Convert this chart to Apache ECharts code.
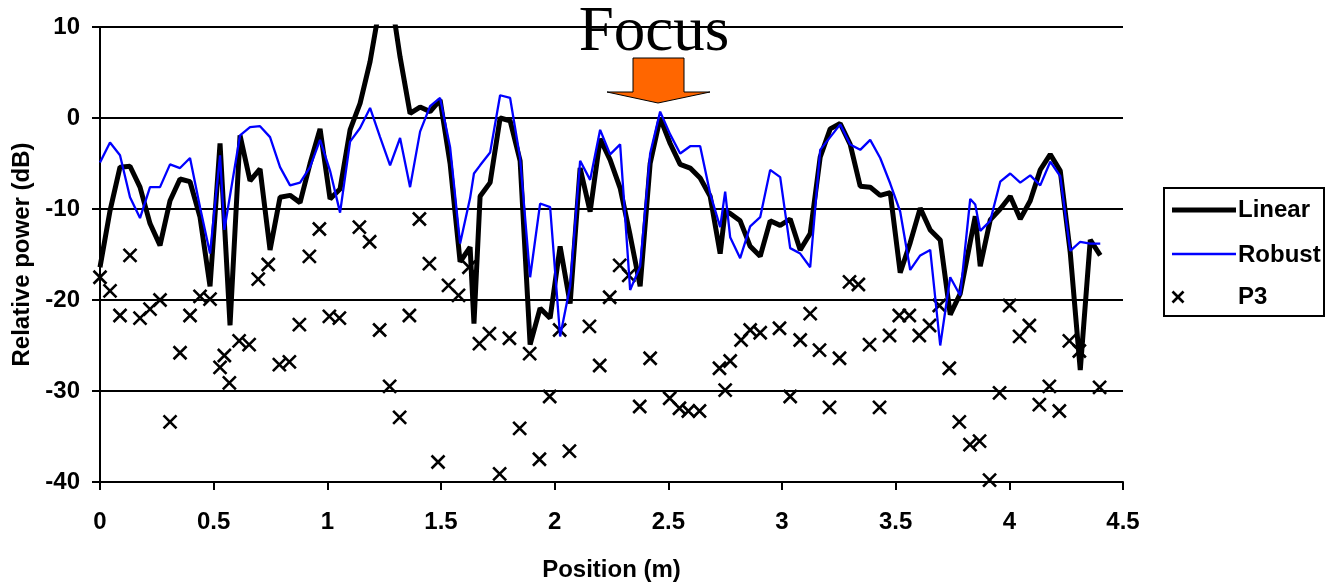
<!DOCTYPE html>
<html>
<head>
<meta charset="utf-8">
<script src="https://cdn.jsdelivr.net/npm/echarts@6/dist/echarts.min.js"></script>
<style>
  html, body { margin: 0; padding: 0; background: #fff; }
  #main { width: 1332px; height: 585px; }
</style>
</head>
<body>
<div id="main"></div>
<script>
// positions (m) shared by the two line series
const position = [
  0, 0.044, 0.088, 0.132, 0.176, 0.22, 0.264, 0.308, 0.352, 0.396, 0.44, 0.484, 0.528, 0.547,
  0.572, 0.616, 0.66, 0.704, 0.748, 0.792, 0.836, 0.88, 0.924, 0.968, 1.012, 1.056, 1.1, 1.144,
  1.188, 1.232, 1.276, 1.32, 1.364, 1.408, 1.452, 1.496, 1.54, 1.584, 1.628, 1.645,
  1.672, 1.716, 1.76, 1.804, 1.848, 1.892, 1.936, 1.98, 2.024, 2.068, 2.112, 2.156, 2.2, 2.244,
  2.288, 2.332, 2.376, 2.42, 2.464, 2.508, 2.552, 2.596, 2.64, 2.684, 2.728, 2.75,
  2.772, 2.816, 2.86, 2.904, 2.948, 2.992, 3.036, 3.08, 3.124, 3.168, 3.212, 3.256, 3.3, 3.344,
  3.388, 3.432, 3.476, 3.52, 3.564, 3.608, 3.652, 3.696, 3.74, 3.784, 3.828, 3.85,
  3.872, 3.916, 3.96, 4.004, 4.048, 4.092, 4.136, 4.18, 4.224, 4.268, 4.312, 4.356, 4.4
];

// dB, null = no sample drawn at that position
const linear = [
  -16.4, -10.2, -5.4, -5.3, -7.6, -11.6, -14.0, -9.1, -6.7, -7.0, -10.9, -18.5, -2.8, null,
  -22.8, -1.9, -6.9, -5.6, -14.5, -8.7, -8.5, -9.3, -5.0, -1.2, -8.9, -7.8, -1.3, 1.6,
  6.2, 12.5, 14.0, 6.7, 0.5, 1.2, 0.7, 2.0, -5.0, -15.8, -14.2, -22.6,
  -8.6, -7.1, 0.0, -0.3, -4.7, -24.9, -20.9, -22.0, -14.1, -20.4, -5.5, -10.3, -2.3, -4.6,
  -7.7, -12.9, -18.5, -5.0, 0.0, -2.8, -5.1, -5.5, -6.6, -8.6, -14.9, -10.2,
  -10.5, -11.3, -14.1, -15.2, -11.3, -11.8, -11.1, -14.5, -12.7, -4.3, -1.2, -0.6, -2.9, -7.5,
  -7.6, -8.5, -8.2, -17.0, -13.7, -9.9, -12.3, -13.4, -21.6, -19.3, null, -10.8,
  -16.3, -11.2, -10.0, -8.6, -11.1, -9.1, -5.7, -4.0, -5.8, -14.8, -27.7, -13.4, -15.1
];

const robust = [
  -4.9, -2.7, -4.1, -8.7, -11.0, -7.6, -7.6, -5.1, -5.5, -4.4, -9.8, -14.9, -4.1, -12.3,
  null, -1.9, -1.0, -0.9, -2.1, -5.4, -7.4, -7.1, -5.4, -2.4, -5.8, -10.4, -2.6, -1.1,
  1.1, -2.1, -5.2, -2.2, -7.6, -1.5, 1.3, 2.2, -3.2, -13.8, -8.8, -6.1,
  -5.2, -3.8, 2.5, 2.2, -4.4, -17.5, -9.4, -9.8, -24.0, -18.5, -4.7, -6.8, -1.3, -4.0,
  -2.9, -18.9, -16.3, -3.9, 0.7, -1.8, -3.9, -3.1, -3.1, -8.3, -12.0, -8.1,
  -13.1, -15.4, -11.9, -10.9, -5.7, -6.5, -14.3, -14.9, -16.4, -3.5, -2.1, -0.7, -2.9, -3.5,
  -2.4, -4.4, -7.2, -10.3, -16.7, -15.1, -14.5, -25.0, -17.5, -19.5, -8.9, -9.5,
  -12.4, -11.3, -7.0, -6.1, -7.1, -6.3, -7.4, -4.8, -6.4, -14.6, -13.6, -13.8, -13.8
];

const p3Position = [
  0, 0.044, 0.088, 0.132, 0.176, 0.22, 0.264, 0.308, 0.352, 0.396, 0.44, 0.484, 0.528, 0.547,
  0.569, 0.612, 0.656, 0.696, 0.74, 0.789, 0.833, 0.877, 0.921, 0.965, 1.009, 1.053,
  1.141, 1.186, 1.23, 1.274, 1.318, 1.361, 1.405, 1.449, 1.487, 1.533, 1.577, 1.623,
  1.669, 1.713, 1.758, 1.801, 1.846, 1.89, 1.933, 1.978, 2.022, 2.065, 2.153, 2.198,
  2.242, 2.286, 2.326, 2.374, 2.42, 2.506, 2.549, 2.588, 2.637, 2.725, 2.75, 2.772,
  2.82, 2.86, 2.904, 2.989, 3.036, 3.08, 3.124, 3.165, 3.209, 3.253, 3.297, 3.336,
  3.385, 3.429, 3.473, 3.516, 3.56, 3.604, 3.649, 3.692, 3.736, 3.78, 3.827, 3.869,
  3.913, 3.957, 4.001, 4.045, 4.088, 4.132, 4.176, 4.22, 4.264, 4.308, 4.397
];

const p3 = [
  -17.5, -19.0, -21.7, -15.1, -22.0, -21.0, -20.0, -33.4, -25.8, -21.7, -19.6, -19.9, -27.4, -26.1,
  -29.1, -24.5, -24.9, -17.7, -16.1, -27.1, -26.8, -22.7, -15.2, -12.2, -21.8, -22.0,
  -12.0, -13.6, -23.3, -29.5, -32.9, -21.7, -11.1, -16.0, -37.8, -18.4, -19.5, -16.4,
  -24.8, -23.7, -39.1, -24.2, -34.1, -25.9, -37.5, -30.6, -23.3, -36.6, -22.9, -27.2,
  -19.7, -16.2, -17.3, -31.7, -26.4, -30.8, -31.9, -32.2, -32.2, -27.5, -29.9, -26.7,
  -24.4, -23.3, -23.6, -23.1, -30.6, -24.4, -21.5, -25.5, -31.8, -26.4, -18.0, -18.3,
  -24.9, -31.8, -23.9, -21.7, -21.7, -23.9, -22.8, -20.6, -27.5, -33.4, -35.9, -35.5,
  -39.8, -30.2, -20.6, -24.0, -22.8, -31.5, -29.5, -32.2, -24.5, -25.6, -29.6
];

const seriesNames = ['Linear', 'Robust', 'P3'];
const annotation = 'Focus';

const FONT = '"Liberation Sans", Arial, sans-serif';

function pairs(xs, ys) {
  const out = [];
  xs.forEach((x, i) => { if (ys[i] !== null) out.push([x, ys[i]]); });
  return out;
}

const chart = echarts.init(document.getElementById('main'), null, { renderer: 'canvas' });

const boldText = { fontFamily: FONT, fontWeight: 'bold', fontSize: 24, color: '#000' };

chart.setOption({
  animation: false,
  backgroundColor: '#fff',
  grid: { left: 100, top: 27, width: 1023, height: 455, outerBoundsMode: 'none' },
  xAxis: {
    type: 'value',
    min: 0,
    max: 4.5,
    interval: 0.5,
    name: 'Position (m)',
    nameLocation: 'middle',
    nameGap: 76,
    nameTextStyle: boldText,
    axisLine: { show: true, onZero: false, lineStyle: { color: '#000', width: 2 } },
    axisTick: { show: true, inside: false, length: 8, lineStyle: { color: '#000', width: 2 } },
    axisLabel: Object.assign({ margin: 28 }, boldText),
    splitLine: { show: false }
  },
  yAxis: {
    type: 'value',
    min: -40,
    max: 10,
    interval: 10,
    name: 'Relative power (dB)',
    nameLocation: 'middle',
    nameGap: 60,
    nameTextStyle: boldText,
    axisLine: { show: true, lineStyle: { color: '#000', width: 2 } },
    axisTick: { show: true, inside: false, length: 8, lineStyle: { color: '#000', width: 2 } },
    axisLabel: Object.assign({ margin: 20 }, boldText),
    splitLine: { show: true, lineStyle: { color: '#000', width: 2 } }
  },
  series: [
    {
      name: seriesNames[0],
      type: 'line',
      data: pairs(position, linear),
      symbol: 'none',
      clip: true,
      lineStyle: { color: '#000', width: 5 },
      itemStyle: { color: '#000' }
    },
    {
      name: seriesNames[1],
      type: 'line',
      data: pairs(position, robust),
      symbol: 'none',
      clip: true,
      lineStyle: { color: '#0000ff', width: 2.3 },
      itemStyle: { color: '#0000ff' }
    },
    {
      name: seriesNames[2],
      type: 'scatter',
      data: pairs(p3Position, p3),
      symbol: 'path://M0,0L10,10M10,0L0,10',
      symbolSize: 13,
      itemStyle: { color: 'rgba(0,0,0,0)', borderColor: '#000', borderWidth: 2.6, opacity: 1 }
    }
  ],
  graphic: [
    {
      type: 'text',
      x: 654,
      y: 33,
      style: {
        text: annotation,
        font: '63px "Liberation Serif", "Times New Roman", serif',
        fill: '#000',
        align: 'center',
        verticalAlign: 'middle'
      }
    },
    {
      type: 'polygon',
      shape: { points: [[633, 58], [684, 58], [684, 92], [710, 92], [658, 103], [607, 92], [633, 92]] },
      style: { fill: '#ff6600', stroke: '#000', lineWidth: 1 }
    },
    // legend box
    {
      type: 'rect',
      shape: { x: 1164, y: 188, width: 160, height: 128 },
      style: { fill: '#fff', stroke: '#000', lineWidth: 2 }
    },
    { type: 'line', shape: { x1: 1172, y1: 210, x2: 1236, y2: 210 }, style: { stroke: '#000', lineWidth: 5 } },
    { type: 'line', shape: { x1: 1172, y1: 254, x2: 1236, y2: 254 }, style: { stroke: '#0000ff', lineWidth: 2.5 } },
    { type: 'line', shape: { x1: 1172.5, y1: 291.5, x2: 1183.5, y2: 302.5 }, style: { stroke: '#000', lineWidth: 2.6 } },
    { type: 'line', shape: { x1: 1183.5, y1: 291.5, x2: 1172.5, y2: 302.5 }, style: { stroke: '#000', lineWidth: 2.6 } },
    {
      type: 'text', x: 1238, y: 210,
      style: { text: seriesNames[0], font: 'bold 24px ' + FONT, fill: '#000', align: 'left', verticalAlign: 'middle' }
    },
    {
      type: 'text', x: 1238, y: 255,
      style: { text: seriesNames[1], font: 'bold 24px ' + FONT, fill: '#000', align: 'left', verticalAlign: 'middle' }
    },
    {
      type: 'text', x: 1238, y: 297,
      style: { text: seriesNames[2], font: 'bold 24px ' + FONT, fill: '#000', align: 'left', verticalAlign: 'middle' }
    }
  ]
});
</script>
</body>
</html>
